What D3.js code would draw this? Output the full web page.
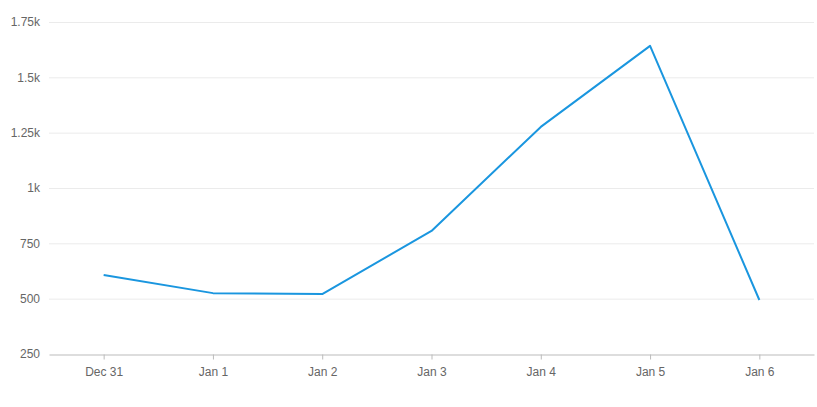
<!DOCTYPE html>
<html>
<head>
<meta charset="utf-8">
<script src="https://cdn.jsdelivr.net/npm/d3@7"></script>
<style>
  body { margin: 0; background: #fff; }
  svg { display: block; font-family: "Liberation Sans", Arial, sans-serif; }
</style>
</head>
<body>
<svg id="chart" width="817" height="407"></svg>
<script>
  const days = ["Dec 31", "Jan 1", "Jan 2", "Jan 3", "Jan 4", "Jan 5", "Jan 6"]
  const counts = [607, 525, 521, 806, 1276, 1642, 494]
  const yTicks = [250, 500, 750, 1000, 1250, 1500, 1750]
  const yTickLabels = ["250", "500", "750", "1k", "1.25k", "1.5k", "1.75k"]

  const width = 817, height = 407
  const margin = { top: 22, right: 3, bottom: 53, left: 49 }
  const innerWidth = width - margin.left - margin.right
  const innerHeight = height - margin.top - margin.bottom

  const svg = d3.select("#chart")
  const g = svg.append("g").attr("transform", `translate(${margin.left}, ${margin.top})`)

  const xScale = d3.scalePoint().domain(days).range([0, innerWidth]).padding(0.5)
  const yScale = d3.scaleLinear().domain([250, 1750]).range([innerHeight, 0])

  // gridlines
  g.append("g").selectAll("line")
    .data(yTicks.filter(d => d > 250))
    .join("line")
    .attr("x1", 0).attr("x2", innerWidth)
    .attr("y1", d => yScale(d) + 0.5).attr("y2", d => yScale(d) + 0.5)
    .attr("stroke", "#ebebeb")

  // y axis labels
  const yAxis = d3.axisLeft(yScale).tickValues(yTicks)
    .tickFormat((d, i) => yTickLabels[i]).tickSize(0).tickPadding(9)
  g.append("g").call(yAxis)
    .call(a => a.select(".domain").remove())
    .selectAll("text").attr("fill", "#666").style("font-size", "12px")

  // x axis
  const xAxis = d3.axisBottom(xScale).tickSize(5).tickSizeOuter(0).tickPadding(8)
  const xg = g.append("g").attr("transform", `translate(0, ${innerHeight + 0.5})`).call(xAxis)
  xg.select(".domain").attr("stroke", "#bbb")
  xg.selectAll(".tick line").attr("stroke", "#bbb")
  xg.selectAll("text").attr("fill", "#666").style("font-size", "12px")

  const line = d3.line()
    .x((d, i) => xScale(days[i]))
    .y(d => yScale(d))

  g.append("path")
    .datum(counts)
    .attr("fill", "none")
    .attr("stroke", "#1a96df")
    .attr("stroke-width", 2)
    .attr("stroke-linejoin", "round")
    .attr("d", line)
</script>
</body>
</html>
